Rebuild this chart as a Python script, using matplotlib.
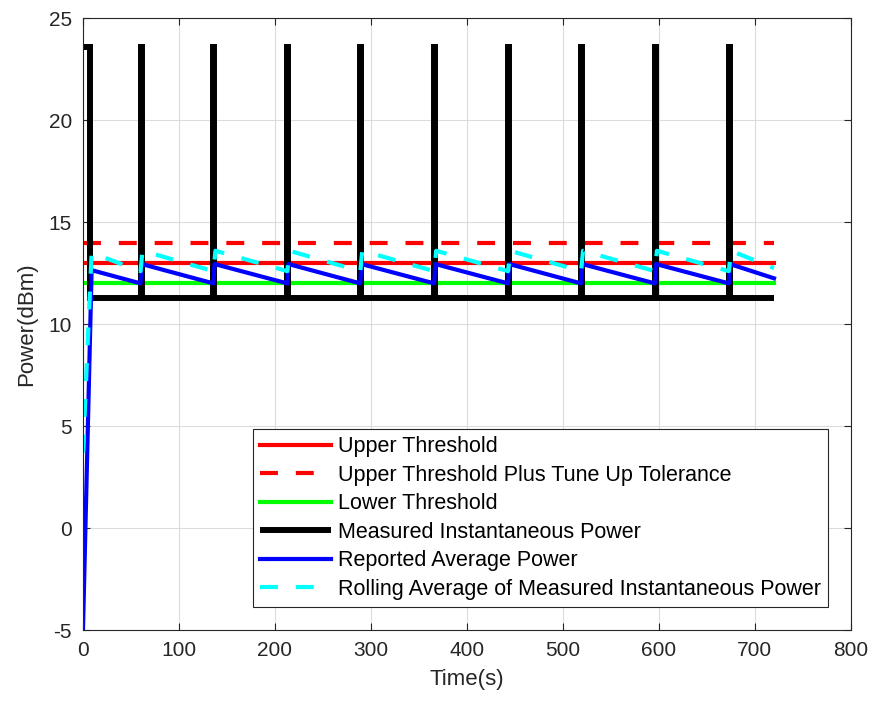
import numpy as np
import matplotlib
matplotlib.use("Agg")
import matplotlib.pyplot as plt

plt.rcParams['font.family'] = ['Liberation Sans', 'DejaVu Sans']
plt.rcParams['axes.unicode_minus'] = False

# thresholds (dBm) and end of test (s)
upper = 13.0
upper_tol = 14.0
lower = 12.0
t_end = 720

# measured instantaneous power: spikes to max power, otherwise ~11.3 dBm
spike_times = [60, 136, 213, 289, 366, 443, 519, 596, 673]
p_max = 23.6
p_base = 11.3
first_burst_end = 7

# reported average power (blue)
avg_t = [0, 9, 60, 61, 136, 137, 213, 214, 289, 290, 366, 367, 443, 444,
         519, 520, 596, 597, 673, 674, 720]
avg_p = [-5.0, 12.65, 12.0, 12.95, 12.0, 12.95, 12.0, 12.95, 12.0, 12.95,
         12.0, 12.95, 12.0, 12.95, 12.0, 12.95, 12.0, 12.95, 12.0, 12.95, 12.25]

# rolling average of measured instantaneous power (cyan)
roll_t = [0, 9, 60, 62, 136, 138, 213, 215, 289, 291, 366, 368, 443, 445,
          519, 521, 596, 598, 673, 675, 720]
roll_p = [3.7, 13.5, 12.6, 13.6, 12.6, 13.6, 12.6, 13.6, 12.6, 13.6,
          12.6, 13.6, 12.6, 13.6, 12.6, 13.6, 12.6, 13.6, 12.6, 13.6, 12.75]

# build the instantaneous trace from the spike list
meas_t = [0, first_burst_end, first_burst_end]
meas_p = [p_max, p_max, p_base]
for s in spike_times:
    meas_t += [s, s, s + 1, s + 1]
    meas_p += [p_base, p_max, p_max, p_base]
meas_t.append(t_end)
meas_p.append(p_base)

fig = plt.figure(figsize=(8.78, 7.04), dpi=100)
ax = fig.add_axes([0.0945, 0.105, 0.8745, 0.869])

ax.plot([0, t_end], [upper, upper], color='#ff0000', lw=3, label='Upper Threshold')
ax.plot([0, t_end], [upper_tol, upper_tol], color='#ff0000', lw=3,
        dashes=(4.3, 4.3), label='Upper Threshold Plus Tune Up Tolerance')
ax.plot([0, t_end], [lower, lower], color='#00ff00', lw=3, label='Lower Threshold')
ax.plot(meas_t, meas_p, color='k', lw=4.3, solid_capstyle='butt',
        solid_joinstyle='miter', label='Measured Instantaneous Power')
ax.plot(avg_t, avg_p, color='#0000ff', lw=3, label='Reported Average Power')
ax.plot(roll_t, roll_p, color='#00ffff', lw=3, dashes=(4.3, 4.3),
        label='Rolling Average of Measured Instantaneous Power')

ax.set_xlim(0, 800)
ax.set_ylim(-5, 25)
ax.set_xticks(np.arange(0, 801, 100))
ax.set_yticks(np.arange(-5, 26, 5))
ax.grid(True, color='#dcdcdc', lw=0.8)
ax.set_axisbelow(True)
ax.tick_params(direction='in', labelsize=15, colors='#262626', length=5,
               top=True, right=True, pad=8)
for sp in ax.spines.values():
    sp.set_color('#262626')
    sp.set_linewidth(0.8)
ax.set_xlabel('Time(s)', fontsize=16, color='#262626', labelpad=6)
ax.set_ylabel('Power(dBm)', fontsize=16, color='#262626', labelpad=8)

leg = ax.legend(loc='lower right', fontsize=15.5, handlelength=3.3,
                fancybox=False, framealpha=1, edgecolor='#262626',
                borderaxespad=1.05, labelspacing=0.35, handletextpad=0.3,
                borderpad=0.35)
leg.get_frame().set_linewidth(0.8)

fig.savefig('out.png', dpi=100)
